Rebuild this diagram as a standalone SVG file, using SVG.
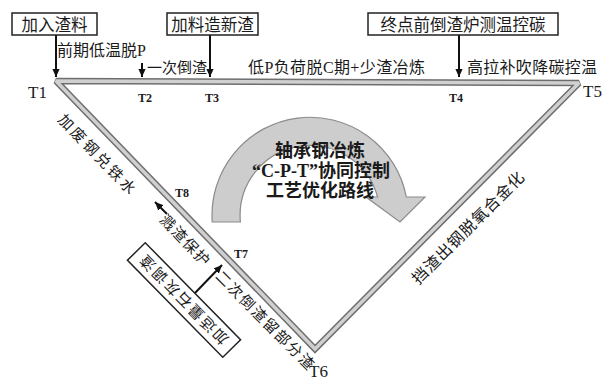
<svg xmlns="http://www.w3.org/2000/svg" width="603" height="380" viewBox="0 0 603 380">
<defs>
<marker id="ah" viewBox="0 0 10 10" refX="10" refY="5" markerWidth="4.2" markerHeight="4.2" orient="auto" markerUnits="strokeWidth">
<path d="M0,0.5 L10,5 L0,9.5 z" fill="#111"/>
</marker>
<style>
.t{font-family:"Liberation Serif","Noto Sans CJK SC",serif;fill:#1a1a1a}
.l{font-size:16px}
.s{font-size:15px}
.box{fill:#fff;stroke:#222;stroke-width:1.5}
.arr{stroke:#111;stroke-width:2;fill:none;marker-end:url(#ah)}
.bo{fill:none;stroke:#6e6e6e;stroke-width:6.5;stroke-linejoin:miter;stroke-miterlimit:2}
.bi{fill:none;stroke:#d0d0d0;stroke-width:3.5;stroke-linejoin:miter;stroke-miterlimit:2}
.tb{font-weight:bold;font-size:12px}
.tn{font-size:17px}
.c{font-weight:bold;font-size:18px}
</style>
</defs>
<rect width="603" height="380" fill="#fff"/>

<g id="connectors">
<path class="bo" d="M56,81 L579,83 L315,349 Z"/>
<path class="bi" d="M56,81 L579,83 L315,349 Z"/>
<path class="arr" d="M56,35 L56,77"/>
<path class="arr" d="M142,63 L142,77"/>
<path class="arr" d="M210,35 L210,77"/>
<path class="arr" d="M459,35 L459,77"/>
<path class="arr" d="M195,293 L222,265"/>
<path class="arr" d="M167,214 L155,202"/>
</g>

<g id="cycle-arrow">
<path d="M212.25,222 A98,98 0 0 1 406.3,197 L425,197 L400,222 L366,197 L377.6,197 A70,70 0 0 0 240.4,222 Z" fill="#cdcdcd" stroke="#8c8c8c" stroke-width="1.2"/>
</g>

<g id="box-add-slag">
<rect class="box" x="12" y="13" width="85" height="22"/>
<text class="t" x="54.5" y="31" font-size="16.5" text-anchor="middle">加入渣料</text>
</g>
<g id="box-new-slag">
<rect class="box" x="167" y="13" width="91" height="22"/>
<text class="t" x="212.5" y="31" font-size="16.5" text-anchor="middle">加料造新渣</text>
</g>
<g id="box-end-point">
<rect class="box" x="368" y="13" width="190" height="22"/>
<text class="t" x="463" y="31" font-size="16.5" text-anchor="middle">终点前倒渣炉测温控碳</text>
</g>
<g id="box-lime">
<g transform="translate(184,300) rotate(45.5)">
<rect class="box" x="-68" y="-12.5" width="136" height="25"/>
<text class="t s" x="0" y="5.5" text-anchor="middle" transform="rotate(180)" textLength="118" lengthAdjust="spacing">加适量石灰调渣</text>
</g>
</g>

<g id="labels">
<text class="t l" x="57" y="55.5">前期低温脱P</text>
<text class="t s" x="147" y="73">一次倒渣</text>
<text class="t l" x="248" y="73" textLength="177" lengthAdjust="spacing">低P负荷脱C期+少渣冶炼</text>
<text class="t l" x="467" y="73" textLength="130" lengthAdjust="spacing">高拉补吹降碳控温</text>
<text class="t s" transform="translate(97,154) rotate(46)" x="0" y="5.5" text-anchor="middle" textLength="104" lengthAdjust="spacing">加废钢兑铁水</text>
<text class="t s" transform="translate(185,240) rotate(46)" x="0" y="5.5" text-anchor="middle" textLength="64" lengthAdjust="spacing">溅渣保护</text>
<text class="t s" transform="translate(265,320) rotate(45)" x="0" y="5.5" text-anchor="middle" textLength="132" lengthAdjust="spacing">二次倒渣留部分渣</text>
<text class="t l" transform="translate(468,228) rotate(-45)" x="0" y="5.5" text-anchor="middle" textLength="151" lengthAdjust="spacing">挡渣出钢脱氧合金化</text>
</g>

<g id="points">
<text class="t tn" x="28" y="98">T1</text>
<text class="t tb" x="138" y="102">T2</text>
<text class="t tb" x="205" y="102">T3</text>
<text class="t tb" x="449" y="102">T4</text>
<text class="t tn" x="583" y="97">T5</text>
<text class="t tn" x="309" y="377">T6</text>
<text class="t tb" x="234" y="258">T7</text>
<text class="t tb" x="175" y="197">T8</text>
</g>

<g id="center-title">
<text class="t c" x="320" y="157" text-anchor="middle">轴承钢冶炼</text>
<text class="t c" x="321" y="177" text-anchor="middle">“C-P-T”协同控制</text>
<text class="t c" x="320" y="197" text-anchor="middle">工艺优化路线</text>
</g>
</svg>
